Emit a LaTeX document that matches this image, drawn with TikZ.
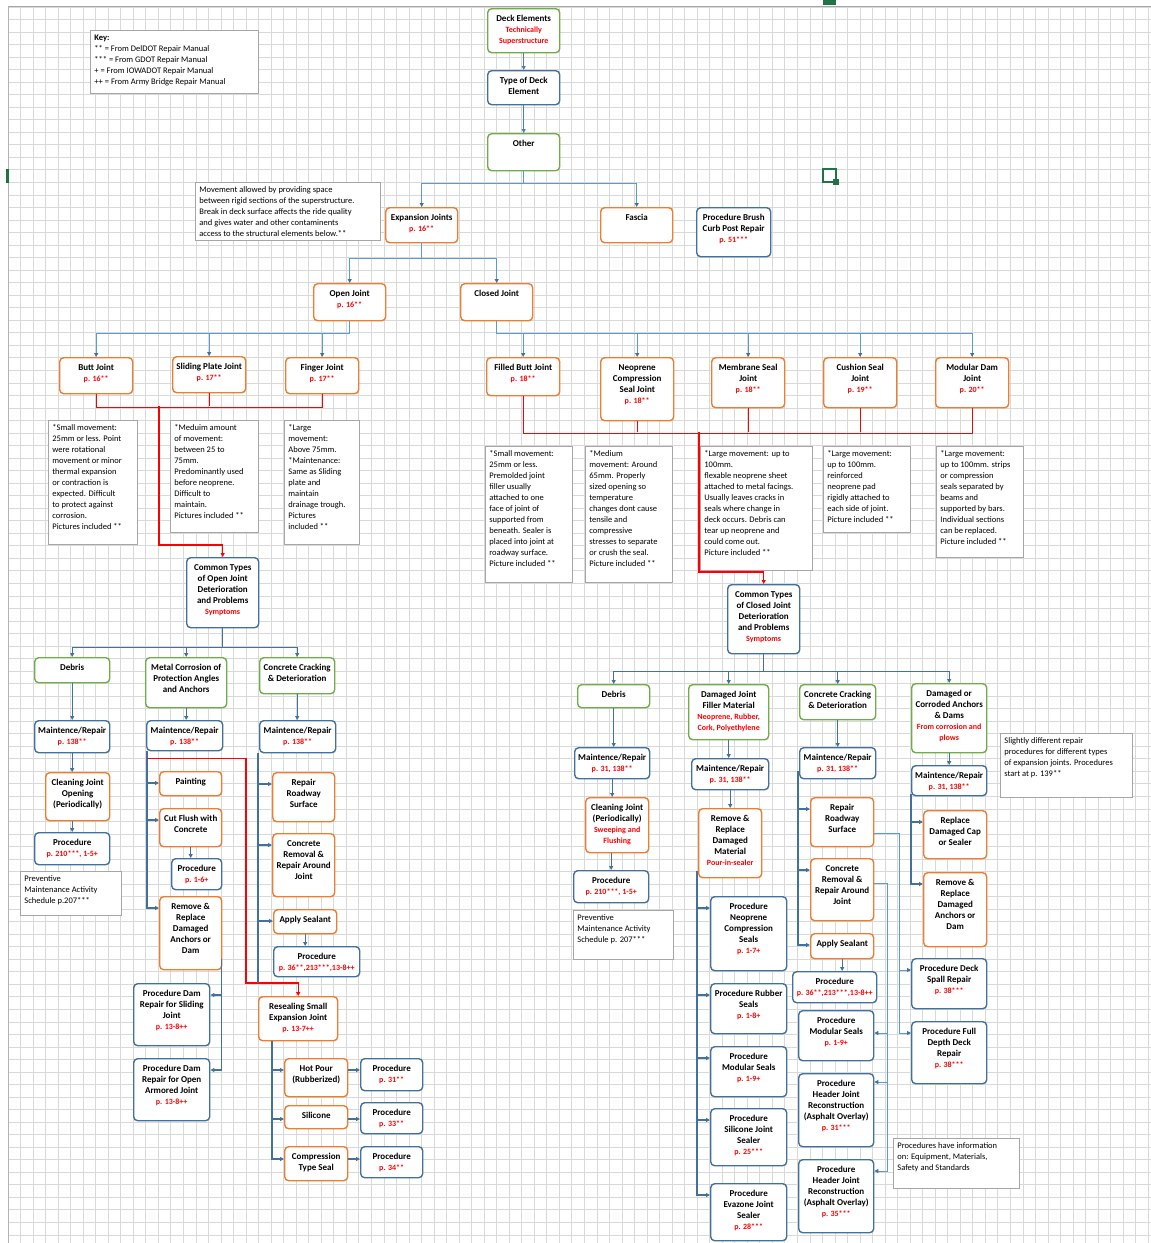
\documentclass[tikz,border=0pt]{standalone}
\usepackage{fontspec}
\setmainfont{Carlito}
\usetikzlibrary{arrows.meta}

\definecolor{grn}{HTML}{70AD47}
\definecolor{dblue}{HTML}{41719C}
\definecolor{mblue}{HTML}{4A7EBB}
\definecolor{lblue}{HTML}{5B9BD5}
\definecolor{orng}{HTML}{ED7D31}
\definecolor{notegray}{HTML}{A6A6A6}
\definecolor{xlgreen}{HTML}{217346}

% box text: fixed size, text from the top
\newcommand{\cell}[3]{\parbox[c][#2pt][t]{#1pt}{\centering\rule{0pt}{12.5pt}#3\par}}
\newcommand{\memo}[3]{\parbox[c][#2pt][t]{#1pt}{\raggedright\rule{0pt}{10.5pt}#3\par}}
\newcommand{\rt}[1]{{\color{red}\fontsize{8}{11}\selectfont #1}}

\begin{document}
\begin{tikzpicture}[x=1pt,y=-1pt,
  cellbox/.style={rounded corners=4pt, line width=1.4pt, fill=white, inner sep=0pt, anchor=north west, font=\bfseries\fontsize{9}{11}\selectfont},
  gbox/.style={cellbox, draw=grn},
  bbox/.style={cellbox, draw=dblue},
  obox/.style={cellbox, draw=orng},
  notebox/.style={draw=notegray, line width=0.8pt, fill=white, inner xsep=4pt, inner ysep=0pt, anchor=north west, font=\fontsize{8.5}{11}\selectfont},
  link/.style={draw=dblue, line width=1.1pt, -{Triangle[length=4pt,width=4pt]}},
  plainlink/.style={draw=dblue, line width=1.1pt},
  toplink/.style={draw=mblue, line width=1.1pt, -{Triangle[length=4pt,width=4pt]}},
  bus/.style={draw=lblue, line width=1.1pt, -{Triangle[length=4pt,width=4pt,color=dblue]}},
  lightlink/.style={draw=lblue, line width=0.9pt, -{Triangle[length=4pt,width=4pt,color=dblue]}},
  redlink/.style={draw=red, line width=1.1pt},
  redarr/.style={redlink, -{Triangle[length=4pt,width=4pt]}},
  gridln/.style={draw=gray!30, line width=0.8pt}]

\useasboundingbox (0,0) rectangle (1151,1243);
\fill[white] (0,0) rectangle (1151,1243);

% sheet grid
\foreach \i in {0,...,91} \draw[gridln] ({8+12.53*\i},6) -- ({8+12.53*\i},1243);
\foreach \j in {0,...,98} \draw[gridln] (8,{7+12.53*\j}) -- (1151,{7+12.53*\j});
\draw[gray!70, line width=1pt] (8,6) -- (1151,6);
\draw[gray!60, line width=0.8pt] (8,6) -- (8,1243);
\fill[xlgreen] (6,169) rectangle (9,183);
\fill[xlgreen] (823,0) rectangle (836,5);
\draw[xlgreen, line width=2pt] (823,169) rectangle (836,182);
\fill[xlgreen] (833,179) rectangle (839,185);

% top
\node[notebox] (key) at (90,30) {\memo{160}{63}{\textbf{Key:}\\{}** = From DelDOT Repair Manual\\{}*** = From GDOT Repair Manual\\+ = From IOWADOT Repair Manual\\++ = From Army Bridge Repair Manual}};
\node[gbox] (deck) at (487,8) {\cell{72}{44}{Deck Elements\\\rt{Technically}\\\rt{Superstructure}}};
\node[bbox] (type) at (487,70) {\cell{72}{34}{Type of Deck\\Element}};
\node[gbox] (other) at (487,133) {\cell{72}{37}{Other}};
\node[notebox] (mvnote) at (195,182) {\memo{177}{58}{Movement allowed by providing space\\between rigid sections of the superstructure.\\Break in deck surface affects the ride quality\\and gives water and other contaminents\\access to the structural elements below.**}};
\node[obox] (exp) at (385,207) {\cell{72}{35}{Expansion Joints\\\rt{p. 16**}}};
\node[obox] (fascia) at (600,207) {\cell{72}{35}{Fascia}};
\node[bbox] (brush) at (696,207) {\cell{74}{49}{Procedure Brush\\Curb Post Repair\\\rt{p. 51***}}};
\node[obox] (open) at (313,283) {\cell{72}{37}{Open Joint\\\rt{p. 16**}}};
\node[obox] (closed) at (460,283) {\cell{72}{37}{Closed Joint}};

% joint types
\node[obox] (butt) at (59,357) {\cell{73}{36}{Butt Joint\\\rt{p. 16**}}};
\node[obox] (slide) at (172,356) {\cell{73}{36}{Sliding Plate Joint\\\rt{p. 17**}}};
\node[obox] (finger) at (285,357) {\cell{73}{36}{Finger Joint\\\rt{p. 17**}}};
\node[obox] (fbutt) at (486,357) {\cell{73}{38}{Filled Butt Joint\\\rt{p. 18**}}};
\node[obox] (neo) at (600,357) {\cell{73}{63}{Neoprene\\Compression\\Seal Joint\\\rt{p. 18**}}};
\node[obox] (memb) at (711,357) {\cell{73}{50}{Membrane Seal\\Joint\\\rt{p. 18**}}};
\node[obox] (cush) at (823,357) {\cell{73}{50}{Cushion Seal\\Joint\\\rt{p. 19**}}};
\node[obox] (modj) at (935,357) {\cell{73}{50}{Modular Dam\\Joint\\\rt{p. 20**}}};

\node[notebox] (nbutt) at (48,420) {\memo{81}{124}{*Small movement:\\25mm or less. Point\\were rotational\\movement or minor\\thermal expansion\\or contraction is\\expected. Difficult\\to protect against\\corrosion.\\Pictures included **}};
\node[notebox] (nslide) at (170,420) {\memo{80}{112}{*Meduim amount\\of movement:\\between 25 to\\75mm.\\Predominantly used\\before neoprene.\\Difficult to\\maintain.\\Pictures included **}};
\node[notebox] (nfinger) at (284,420) {\memo{67}{124}{*Large\\movement:\\Above 75mm.\\{}*Maintenance:\\Same as Sliding\\plate and\\maintain\\drainage trough.\\Pictures\\included **}};
\node[notebox] (nfbutt) at (485,446) {\memo{79}{136}{*Small movement:\\25mm or less.\\Premolded joint\\filler usually\\attached to one\\face of joint of\\supported from\\beneath. Sealer is\\placed into joint at\\roadway surface.\\Picture included **}};
\node[notebox] (nneo) at (585,446) {\memo{79}{136}{*Medium\\movement: Around\\65mm. Properly\\sized opening so\\temperature\\changes dont cause\\tensile and\\compressive\\stresses to separate\\or crush the seal.\\Picture included **}};
\node[notebox] (nmemb) at (700,446) {\memo{104}{124}{*Large movement: up to\\100mm.\\flexable neoprene sheet\\attached to metal facings.\\Usually leaves cracks in\\seals where change in\\deck occurs. Debris can\\tear up neoprene and\\could come out.\\Picture included **}};
\node[notebox] (ncush) at (823,446) {\memo{79}{86}{*Large movement:\\up to 100mm.\\reinforced\\neoprene pad\\rigidly attached to\\each side of joint.\\Picture included **}};
\node[notebox] (nmodj) at (936,446) {\memo{79}{111}{*Large movement:\\up to 100mm. strips\\or compression\\seals separated by\\beams and\\supported by bars.\\Individual sections\\can be replaced.\\Picture included **}};

% open joint problems
\node[bbox] (ctopen) at (186,557) {\cell{72}{70}{Common Types\\of Open Joint\\Deterioration\\and Problems\\\rt{Symptoms}}};
\node[gbox] (odeb) at (34,657) {\cell{75}{25}{Debris}};
\node[gbox] (metal) at (145,657) {\cell{81}{50}{Metal Corrosion of\\Protection Angles\\and Anchors}};
\node[gbox] (ocrack) at (259,657) {\cell{75}{36}{Concrete Cracking\\\& Deterioration}};
\node[bbox] (omt1) at (34,720) {\cell{75}{32}{Maintence/Repair\\\rt{p. 138**}}};
\node[bbox] (omt2) at (146,720) {\cell{76}{30}{Maintence/Repair\\\rt{p. 138**}}};
\node[bbox] (omt3) at (259,720) {\cell{76}{32}{Maintence/Repair\\\rt{p. 138**}}};
\node[obox] (oclean) at (45,772) {\cell{64}{48}{Cleaning Joint\\Opening\\(Periodically)}};
\node[bbox] (oproc1) at (34,832) {\cell{75}{32}{Procedure\\\rt{p. 210***, 1-5+}}};
\node[notebox] (oprev) at (20,871) {\memo{93}{44}{Preventive\\Maintenance Activity\\Schedule p.207***}};
\node[obox] (paint) at (159,771) {\cell{62}{24}{Painting}};
\node[obox] (cutf) at (159,808) {\cell{62}{38}{Cut Flush with\\Concrete}};
\node[bbox] (oproc2) at (171,858) {\cell{50}{31}{Procedure\\\rt{p. 1-6+}}};
\node[obox] (oremd) at (159,896) {\cell{62}{73}{Remove \&\\Replace\\Damaged\\Anchors or\\Dam}};
\node[bbox] (damsl) at (133,983) {\cell{76}{62}{Procedure Dam\\Repair for Sliding\\Joint\\\rt{p. 13-8++}}};
\node[bbox] (damoa) at (133,1058) {\cell{76}{62}{Procedure Dam\\Repair for Open\\Armored Joint\\\rt{p. 13-8++}}};
\node[obox] (orep) at (272,772) {\cell{62}{49}{Repair\\Roadway\\Surface}};
\node[obox] (ocrem) at (272,833) {\cell{62}{63}{Concrete\\Removal \&\\Repair Around\\Joint}};
\node[obox] (oseal) at (273,909) {\cell{63}{24}{Apply Sealant}};
\node[bbox] (oproc3) at (273,946) {\cell{86}{30}{Procedure\\\rt{p. 36**,213***,13-8++}}};
\node[obox] (reseal) at (258,996) {\cell{79}{44}{Resealing Small\\Expansion Joint\\\rt{p. 13-7++}}};
\node[obox] (hotp) at (284,1058) {\cell{63}{38}{Hot Pour\\(Rubberized)}};
\node[obox] (silc) at (284,1105) {\cell{63}{23}{Silicone}};
\node[obox] (comps) at (284,1146) {\cell{63}{34}{Compression\\Type Seal}};
\node[bbox] (pr31) at (360,1058) {\cell{62}{32}{Procedure\\\rt{p. 31**}}};
\node[bbox] (pr33) at (360,1102) {\cell{62}{31}{Procedure\\\rt{p. 33**}}};
\node[bbox] (pr34) at (360,1146) {\cell{62}{31}{Procedure\\\rt{p. 34**}}};

% closed joint problems
\node[bbox] (ctclosed) at (727,584) {\cell{72}{69}{Common Types\\of Closed Joint\\Deterioration\\and Problems\\\rt{Symptoms}}};
\node[gbox] (cdeb) at (577,684) {\cell{72}{23}{Debris}};
\node[gbox] (djf) at (688,684) {\cell{80}{55}{Damaged Joint\\Filler Material\\\rt{Neoprene, Rubber,}\\\rt{Cork, Polyethylene}}};
\node[gbox] (ccrack) at (799,684) {\cell{76}{35}{Concrete Cracking\\\& Deterioration}};
\node[gbox] (danch) at (911,683) {\cell{75}{69}{Damaged or\\Corroded Anchors\\\& Dams\\\rt{From corrosion and}\\\rt{plows}}};
\node[bbox] (cmt1) at (574,747) {\cell{75}{31}{Maintence/Repair\\\rt{p. 31, 138**}}};
\node[bbox] (cmt2) at (691,758) {\cell{77}{31}{Maintence/Repair\\\rt{p. 31, 138**}}};
\node[bbox] (cmt3) at (799,747) {\cell{76}{31}{Maintence/Repair\\\rt{p. 31, 138**}}};
\node[bbox] (cmt4) at (911,765) {\cell{75}{30}{Maintence/Repair\\\rt{p. 31, 138**}}};
\node[obox] (cclean) at (585,797) {\cell{63}{55}{Cleaning Joint\\(Periodically)\\\rt{Sweeping and}\\\rt{Flushing}}};
\node[bbox] (cproc1) at (573,870) {\cell{75}{32}{Procedure\\\rt{p. 210***, 1-5+}}};
\node[notebox] (cprev) at (573,910) {\memo{92}{49}{Preventive\\Maintenance Activity\\Schedule p. 207***}};
\node[obox] (cremd) at (698,808) {\cell{63}{69}{Remove \&\\Replace\\Damaged\\Material\\\rt{Pour-in-sealer}}};
\node[bbox] (pneo) at (710,896) {\cell{76}{74}{Procedure\\Neoprene\\Compression\\Seals\\\rt{p. 1-7+}}};
\node[bbox] (prub) at (710,983) {\cell{76}{50}{Procedure Rubber\\Seals\\\rt{p. 1-8+}}};
\node[bbox] (pmod1) at (710,1046) {\cell{76}{50}{Procedure\\Modular Seals\\\rt{p. 1-9+}}};
\node[bbox] (psil) at (710,1108) {\cell{76}{57}{Procedure\\Silicone Joint\\Sealer\\\rt{p. 25***}}};
\node[bbox] (peva) at (710,1183) {\cell{76}{57}{Procedure\\Evazone Joint\\Sealer\\\rt{p. 28***}}};
\node[obox] (crep) at (810,797) {\cell{63}{49}{Repair\\Roadway\\Surface}};
\node[obox] (ccrem) at (810,858) {\cell{63}{62}{Concrete\\Removal \&\\Repair Around\\Joint}};
\node[obox] (cseal) at (810,933) {\cell{63}{25}{Apply Sealant}};
\node[bbox] (cproc3) at (792,971) {\cell{84}{31}{Procedure\\\rt{p. 36**,213***,13-8++}}};
\node[bbox] (pmod2) at (798,1010) {\cell{75}{50}{Procedure\\Modular Seals\\\rt{p. 1-9+}}};
\node[bbox] (phdr1) at (798,1073) {\cell{75}{73}{Procedure\\Header Joint\\Reconstruction\\(Asphalt Overlay)\\\rt{p. 31***}}};
\node[bbox] (phdr2) at (798,1159) {\cell{75}{73}{Procedure\\Header Joint\\Reconstruction\\(Asphalt Overlay)\\\rt{p. 35***}}};
\node[obox] (crepl) at (923,810) {\cell{63}{48}{Replace\\Damaged Cap\\or Sealer}};
\node[obox] (cremd2) at (923,872) {\cell{63}{74}{Remove \&\\Replace\\Damaged\\Anchors or\\Dam}};
\node[bbox] (spall) at (911,958) {\cell{75}{50}{Procedure Deck\\Spall Repair\\\rt{p. 38***}}};
\node[bbox] (fulld) at (911,1021) {\cell{75}{62}{Procedure Full\\Depth Deck\\Repair\\\rt{p. 38***}}};
\node[notebox] (nslight) at (1000,733) {\memo{124}{64}{Slightly different repair\\procedures for different types\\of expansion joints. Procedures\\start at p. 139**}};
\node[notebox] (nproc) at (893,1138) {\memo{118}{50}{Procedures have information\\on: Equipment, Materials,\\Safety and Standards}};

% connectors, top
\draw[toplink] (deck) -- (type);
\draw[toplink] (type) -- (other);
\foreach \n in {exp,fascia} \draw[bus] (other.south) -- ++(0,12) -| (\n);
\foreach \n in {open,closed} \draw[bus] (exp.south) -- ++(0,15) -| (\n);
\foreach \n in {butt,slide,finger} \draw[bus] (open.south) -- ++(0,12) -| (\n);
\foreach \n in {fbutt,neo,memb,cush,modj} \draw[bus] (closed.south) -- ++(0,12) -| (\n);

% red joins to the problem boxes
\coordinate (ojr) at (159,406);
\coordinate (cjr) at (699,432);
\coordinate (rbend) at (246,983);
\draw[redlink] (butt.south) -- ++(0,13) -| (finger.south);
\draw[redlink] (slide.south) -- (slide.south |- ojr);
\draw[redarr] (ojr) -- ++(0,139) -| (ctopen);
\draw[redlink] (fbutt.south) -- ++(0,37) -| (modj.south);
\foreach \n in {neo,memb,cush} \draw[redlink] (\n.south) -- (\n.south |- cjr);
\draw[redarr] (cjr) -- ++(0,140) -| (ctclosed);

% open joint tree
\foreach \n in {odeb,metal,ocrack} \draw[link] (ctopen.south) -- ++(0,19) -| (\n);
\foreach \a/\b in {odeb/omt1,metal/omt2,ocrack/omt3,omt1/oclean,cutf/oproc2,oseal/oproc3} \draw[link] (\a) -- (\a |- \b.north);
\draw[link] (oproc1 |- oclean.south) -- (oproc1);
\foreach \t in {paint,cutf,oremd} \draw[link] ([xshift=1pt]omt2.south west) |- ([yshift=-12pt]\t.north west);
\draw[redarr] ([xshift=1pt,yshift=-7pt]omt2.south west) -| (rbend) -| (reseal);
\draw[plainlink] ([xshift=-1pt]omt3.south west) -- ([xshift=-1pt]omt3.south west |- rbend);
\foreach \t in {orep,ocrem,oseal} \draw[link] ([xshift=-1pt]omt3.south west) |- ([yshift=-12pt]\t.north west);
\foreach \t in {damsl,damoa} \draw[link] ([xshift=-1pt,yshift=11pt]oremd.south east) |- ([yshift=-12pt]\t.north east);
\foreach \t/\d in {hotp/12pt,silc/14pt,comps/13pt} \draw[link] ([xshift=14pt]reseal.south west) |- ([yshift=-\d]\t.north west);
\foreach \a/\b/\d in {hotp/pr31/12pt,silc/pr33/14pt,comps/pr34/13pt} \draw[link] ([yshift=-\d]\a.north east) -- ([yshift=-\d]\a.north east -| \b.west);

% closed joint tree
\foreach \n in {cdeb,djf,ccrack,danch} \draw[link] (ctclosed.south) -- ++(0,17) -| (\n);
\foreach \a/\b in {cdeb/cmt1,djf/cmt2,ccrack/cmt3,danch/cmt4,cmt1/cclean,cmt2/cremd,cseal/cproc3} \draw[link] (\a) -- (\a |- \b.north);
\draw[link] (cproc1 |- cclean.south) -- (cproc1);
\foreach \t in {pneo,prub,pmod1,psil,peva} \draw[link] ([xshift=-1pt,yshift=7pt]cremd.south west) |- ([yshift=-12pt]\t.north west);
\foreach \t in {crep,ccrem,cseal} \draw[link] ([xshift=-1pt,yshift=8pt]cmt3.south west) |- ([yshift=-12pt]\t.north west);
\foreach \t in {crepl,cremd2} \draw[link] ([yshift=2pt]cmt4.south west) |- ([yshift=-12pt]\t.north west);
\foreach \t in {spall,fulld} \draw[lightlink] ([yshift=-36pt]crep.north east) -- ++(25,0) |- ([yshift=-12pt]\t.north west);
\foreach \t/\d in {pmod2/23pt,phdr1/9pt,phdr2/12pt} \draw[lightlink] ([yshift=-25pt]ccrem.north east) -- ++(13,0) |- ([yshift=-\d]\t.north east);
\end{tikzpicture}
\end{document}
